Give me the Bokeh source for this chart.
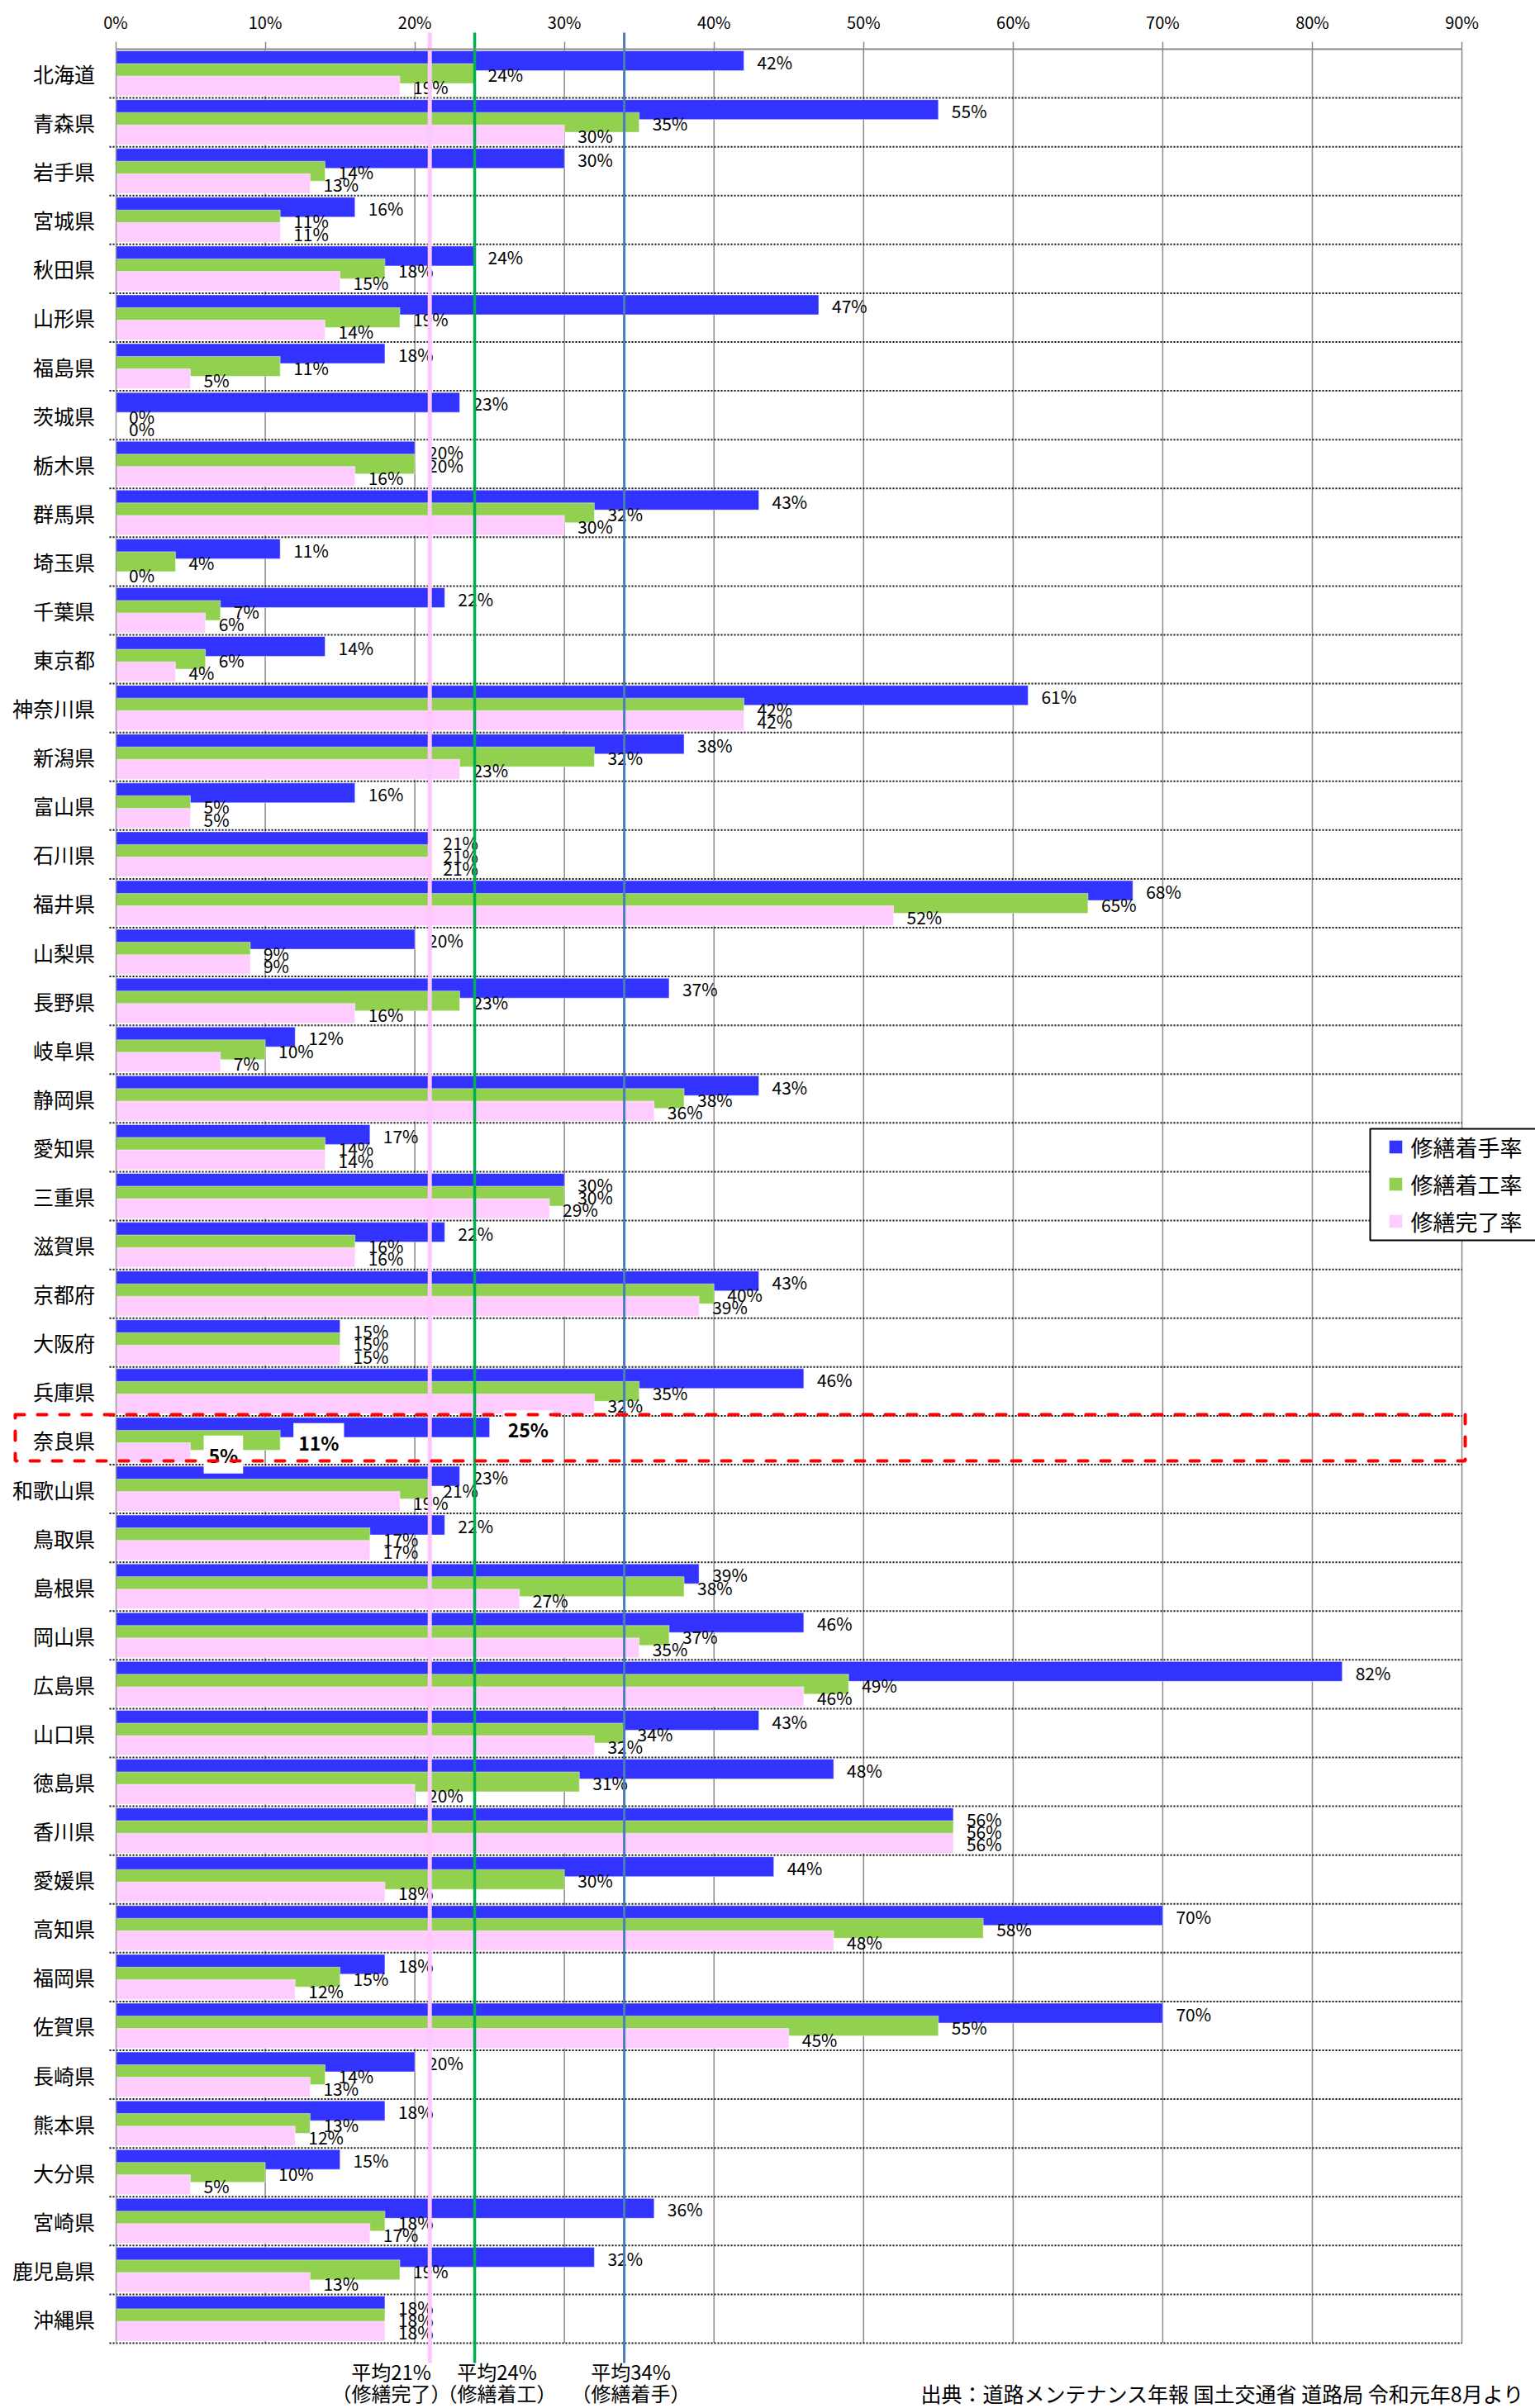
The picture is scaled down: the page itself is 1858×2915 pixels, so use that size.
from bokeh.plotting import figure
from bokeh.models import (ColumnDataSource, Range1d, FixedTicker, PrintfTickFormatter, Label)
from bokeh.core.properties import value
from bokeh.embed import file_html
from bokeh.resources import INLINE

# ---------------- data ----------------
prefectures = ["北海道", "青森県", "岩手県", "宮城県", "秋田県", "山形県", "福島県", "茨城県",
               "栃木県", "群馬県", "埼玉県", "千葉県", "東京都", "神奈川県", "新潟県", "富山県",
               "石川県", "福井県", "山梨県", "長野県", "岐阜県", "静岡県", "愛知県", "三重県",
               "滋賀県", "京都府", "大阪府", "兵庫県", "奈良県", "和歌山県", "鳥取県", "島根県",
               "岡山県", "広島県", "山口県", "徳島県", "香川県", "愛媛県", "高知県", "福岡県",
               "佐賀県", "長崎県", "熊本県", "大分県", "宮崎県", "鹿児島県", "沖縄県"]
start_rate = [42, 55, 30, 16, 24, 47, 18, 23, 20, 43, 11, 22, 14, 61, 38, 16,
              21, 68, 20, 37, 12, 43, 17, 30, 22, 43, 15, 46, 25, 23, 22, 39,
              46, 82, 43, 48, 56, 44, 70, 18, 70, 20, 18, 15, 36, 32, 18]
work_rate = [24, 35, 14, 11, 18, 19, 11, 0, 20, 32, 4, 7, 6, 42, 32, 5,
             21, 65, 9, 23, 10, 38, 14, 30, 16, 40, 15, 35, 11, 21, 17, 38,
             37, 49, 34, 31, 56, 30, 58, 15, 55, 14, 13, 10, 18, 19, 18]
done_rate = [19, 30, 13, 11, 15, 14, 5, 0, 16, 30, 0, 6, 4, 42, 23, 5,
             21, 52, 9, 16, 7, 36, 14, 29, 16, 39, 15, 32, 5, 19, 17, 27,
             35, 46, 32, 20, 56, 18, 48, 12, 45, 13, 12, 5, 17, 13, 18]
series_names = ["修繕着手率", "修繕着工率", "修繕完了率"]
avg_values = [21, 24, 34]
avg_texts = ["平均21%", "平均24%", "平均34%"]
avg_notes = ["（修繕完了）", "（修繕着工）", "（修繕着手）"]
x_ticks = [0, 10, 20, 30, 40, 50, 60, 70, 80, 90]
highlight = "奈良県"
source_note = "出典：道路メンテナンス年報 国土交通省 道路局 令和元年8月より"

# ---------------- style / geometry ----------------
FONT = "Noto Sans CJK JP"
BAR_COLORS = ["#3333FF", "#92D050", "#FFCCFF"]
AVG_COLORS = ["#FFC6FF", "#00B050", "#4A7EBB"]
AVG_WIDTHS = [5, 3.5, 3]
W, H = 1858, 2915
X0, PXX = 139.5, 18.106        # pixel of 0 %, pixels per 1 %
Y0, PXY = 59.0, 59.085         # pixel of first row top, pixels per row


def dx(px):
    return (px - X0) / PXX


def dy(py):
    return (py - Y0) / PXY


n = len(prefectures)
offs = [-0.262, 0.0, 0.255]
bar_h = 0.406

p = figure(width=W, height=H, x_range=Range1d(dx(0), dx(W)), y_range=Range1d(dy(H), dy(0)),
           x_axis_location="above", output_backend="svg", toolbar_location=None,
           min_border_left=0, min_border_right=0, min_border_top=0, min_border_bottom=0)
p.outline_line_color = None
p.background_fill_color = "white"
p.border_fill_color = "white"
p.xgrid.visible = False
p.ygrid.visible = False

# vertical grid lines and dotted row separators
gx = x_ticks[1:]
p.segment(x0=gx, x1=gx, y0=[0] * len(gx), y1=[n] * len(gx),
          line_color="#8A8A8A", line_width=1.5)
sep = list(range(1, n + 1))
p.segment(x0=[dx(132)] * len(sep), x1=[x_ticks[-1]] * len(sep), y0=sep, y1=sep,
          line_color="#111111", line_width=2, line_dash="2 2")

centers = [i + 0.5 for i in range(n)]
src = ColumnDataSource(dict(
    yb=[c + offs[0] for c in centers], yg=[c + offs[1] for c in centers],
    yp=[c + offs[2] for c in centers],
    start=start_rate, work=work_rate, done=done_rate))

for ycol, vcol, col in zip(("yb", "yg", "yp"), ("start", "work", "done"), BAR_COLORS):
    p.hbar(y=ycol, left=0, right=vcol, height=bar_h, source=src,
           fill_color=col, line_color="white", line_alpha=0.45, line_width=1)

# value labels
lx, ly, lt = [], [], []
hx, hy, ht = [], [], []
for i, name in enumerate(prefectures):
    for vals, off in zip((start_rate, work_rate, done_rate), offs):
        v = vals[i]
        if name == highlight:
            hx.append(v); hy.append(centers[i] + off + 0.04); ht.append(f"{v}%")
        else:
            lx.append(v); ly.append(centers[i] + off + 0.02); lt.append(f"{v}%")

p.text(x="x", y="y", text="t", source=ColumnDataSource(dict(x=lx, y=ly, t=lt)),
       x_offset=16, text_align="left", text_baseline="middle",
       text_font=value(FONT), text_font_size=value("21px"), text_color="black")
p.text(x="x", y="y", text="t", source=ColumnDataSource(dict(x=hx, y=hy, t=ht)),
       x_offset=16, text_align="left", text_baseline="middle",
       text_font=value(FONT), text_font_size=value("23px"), text_font_style="bold",
       text_color="black", background_fill_color="white", padding=6)

# average lines
p.segment(x0=avg_values, x1=avg_values, y0=[dy(39)] * 3, y1=[dy(2860)] * 3,
          line_color=AVG_COLORS, line_width=AVG_WIDTHS)

# highlight box around Nara
p.quad(left=[dx(18)], right=[dx(1773)], top=[dy(1712)], bottom=[dy(1768)],
       fill_color=None, line_color="#FF0000", line_width=4,
       line_dash="11 16", line_cap="round")

# legend box (drawn from the series names and colours)
p.quad(left=[dx(1658)], right=[dx(1900)], top=[dy(1366)], bottom=[dy(1501)],
       fill_color="white", line_color="black", line_width=2)
leg_y = [dy(1388), dy(1433), dy(1478)]
p.scatter(x=[dx(1689)] * 3, y=leg_y, marker="square", size=16,
          fill_color=BAR_COLORS, line_color="white", line_alpha=0.45)
p.text(x=[dx(1707)] * 3, y=leg_y, text=series_names, text_align="left",
       text_baseline="middle", text_font=value(FONT), text_font_size=value("27px"),
       text_color="black")

# axes (drawn at the data origin)
xa = p.xaxis[0]
xa.fixed_location = 0
xa.bounds = (x_ticks[0], x_ticks[-1])
xa.ticker = FixedTicker(ticks=x_ticks)
xa.formatter = PrintfTickFormatter(format="%d%%")
xa.major_label_text_font = FONT
xa.major_label_text_font_size = "20px"
xa.major_label_text_color = "black"
xa.axis_line_color = "#888888"
xa.axis_line_width = 2
xa.major_tick_line_color = "#888888"
xa.major_tick_line_width = 1.5
xa.major_tick_out = 9
xa.major_tick_in = 0
xa.minor_tick_out = 0
xa.minor_tick_in = 0
xa.major_label_standoff = 10

ya = p.yaxis[0]
ya.fixed_location = 0
ya.bounds = (0, n)
ya.ticker = FixedTicker(ticks=centers)
ya.major_label_overrides = {c: name for c, name in zip(centers, prefectures)}
ya.major_label_text_font = FONT
ya.major_label_text_font_size = "25px"
ya.major_label_text_color = "black"
ya.axis_line_color = "#999999"
ya.axis_line_width = 1.5
ya.major_tick_out = 0
ya.major_tick_in = 0
ya.minor_tick_out = 0
ya.minor_tick_in = 0
ya.major_label_standoff = 25

# average annotations
for v, px, t1, t2 in zip(avg_values, (473, 601, 763), avg_texts, avg_notes):
    p.add_layout(Label(x=dx(px), y=dy(2870), text=t1, text_align="center",
                       text_baseline="middle", text_font=FONT, text_font_size="24px",
                       text_color="black"))
    p.add_layout(Label(x=dx(px), y=dy(2896), text=t2, text_align="center",
                       text_baseline="middle", text_font=FONT, text_font_size="24px",
                       text_color="black"))

p.add_layout(Label(x=dx(1114), y=dy(2896), text=source_note, text_align="left",
                   text_baseline="middle", text_font=FONT, text_font_size="25px",
                   text_color="black"))

open("out.html", "w").write(file_html(p, INLINE))
